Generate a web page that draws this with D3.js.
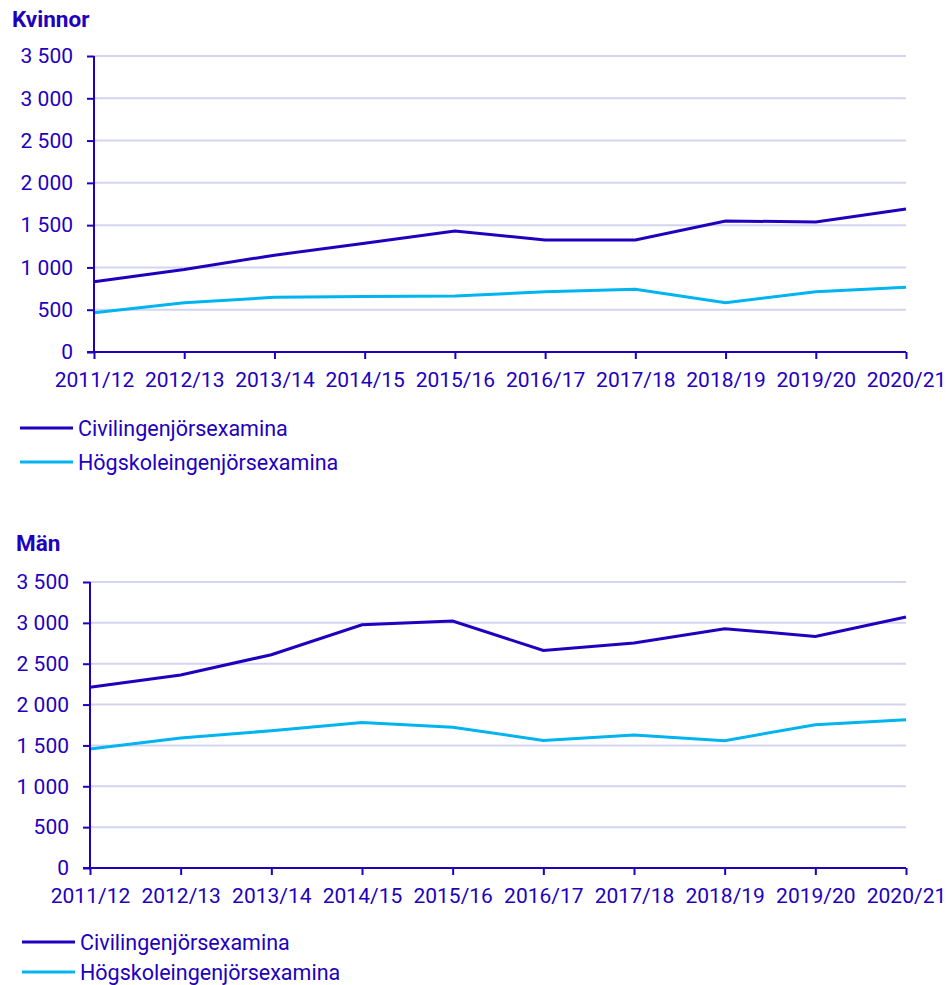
<!DOCTYPE html>
<meta charset="utf-8">
<head>
<style>
body {
  margin: 0;
  background: #fff;
  font-family: "Roboto", sans-serif;
}
.grid line {
  stroke: #d4d4f0;
  stroke-width: 2px;
}
.axis path,
.axis line {
  stroke: #1e00be;
  stroke-width: 2px;
  fill: none;
}
.axis text {
  fill: #1e00be;
  font-size: 21px;
  font-family: "Roboto", sans-serif;
}
.line {
  fill: none;
  stroke-width: 3px;
}
.title {
  fill: #1e00be;
  font-weight: bold;
  font-size: 22.5px;
}
.legend text {
  fill: #1e00be;
  font-size: 21.5px;
}
</style>
<script src="https://d3js.org/d3.v7.min.js"></script>
</head>
<body>
<div id="chart"></div>
<script>

var years = ["2011/12", "2012/13", "2013/14", "2014/15", "2015/16", "2016/17", "2017/18", "2018/19", "2019/20", "2020/21"];
var yTicks = [0, 500, 1000, 1500, 2000, 2500, 3000, 3500];
var seriesNames = ["Civilingenjörsexamina", "Högskoleingenjörsexamina"];
var seriesColors = ["#1e00be", "#00b4f0"];

// Kvinnor
var kvinnorCivil = [830, 975, 1145, 1285, 1432, 1324, 1324, 1550, 1537, 1690];
var kvinnorHogskole = [465, 583, 647, 655, 662, 712, 742, 583, 713, 765];

// Män
var manCivil = [2213, 2362, 2610, 2977, 3023, 2662, 2754, 2929, 2834, 3072];
var manHogskole = [1456, 1590, 1680, 1782, 1722, 1561, 1628, 1558, 1754, 1815];

var svg = d3.select("#chart").append("svg")
  .attr("width", 948)
  .attr("height", 985);

var fmt = function(d) { return d3.format(",")(d).replace(/,/g, " "); };

function panel(opt) {
  var g = svg.append("g");

  var x = d3.scalePoint()
    .domain(years)
    .range([opt.left, opt.right]);
  var y = d3.scaleLinear()
    .domain([0, 3500])
    .range([opt.bottom, opt.top]);

  g.append("text")
    .attr("class", "title")
    .attr("x", opt.titleX)
    .attr("y", opt.titleY)
    .text(opt.title);

  ////gridlines
  g.append("g")
    .attr("class", "grid")
    .selectAll("line")
    .data(yTicks.slice(1))
    .enter()
    .append("line")
      .attr("x1", opt.left)
      .attr("x2", opt.right)
      .attr("y1", function(d) { return y(d); })
      .attr("y2", function(d) { return y(d); });

  ////lines
  var line = d3.line()
    .x(function(d, i) { return x(years[i]); })
    .y(function(d) { return y(d); });
  g.selectAll("paths")
    .data(opt.series)
    .enter()
    .append("path")
      .attr("class", "line")
      .attr("d", function(d) { return line(d); })
      .attr("stroke", function(d, i) { return seriesColors[i]; });

  ////axes
  var ya = g.append("g")
    .attr("class", "axis")
    .attr("transform", "translate(" + opt.left + ",0)")
    .call(d3.axisLeft(y).tickValues(yTicks).tickFormat(fmt).tickSize(7).tickSizeOuter(0).tickPadding(14));
  ya.select(".domain").attr("d", "M0," + opt.bottom + "V" + opt.top);

  var xa = g.append("g")
    .attr("class", "axis")
    .attr("transform", "translate(0," + opt.bottom + ")")
    .call(d3.axisBottom(x).tickSize(7).tickSizeOuter(0).tickPadding(13));
  xa.select(".domain").attr("d", "M" + (opt.left - 7) + ",0H" + opt.right);

  ////legend
  var lg = g.append("g").attr("class", "legend")
    .selectAll("g")
    .data(seriesNames)
    .enter()
    .append("g")
      .attr("transform", function(d, i) { return "translate(" + opt.legendX + "," + (opt.legendY + i * opt.legendStep) + ")"; });
  lg.append("line")
    .attr("x1", 0).attr("x2", 53)
    .attr("stroke", function(d, i) { return seriesColors[i]; })
    .attr("stroke-width", 3);
  lg.append("text")
    .attr("x", 58)
    .attr("dy", "0.35em")
    .text(function(d) { return d; });
}

panel({
  title: "Kvinnor", titleX: 12, titleY: 27,
  left: 94, right: 906, top: 56, bottom: 352,
  series: [kvinnorCivil, kvinnorHogskole],
  legendX: 20, legendY: 428, legendStep: 34
});

panel({
  title: "Män", titleX: 16, titleY: 551,
  left: 90, right: 906, top: 582, bottom: 868,
  series: [manCivil, manHogskole],
  legendX: 22, legendY: 942, legendStep: 30
});

</script>
</body>
</html>
